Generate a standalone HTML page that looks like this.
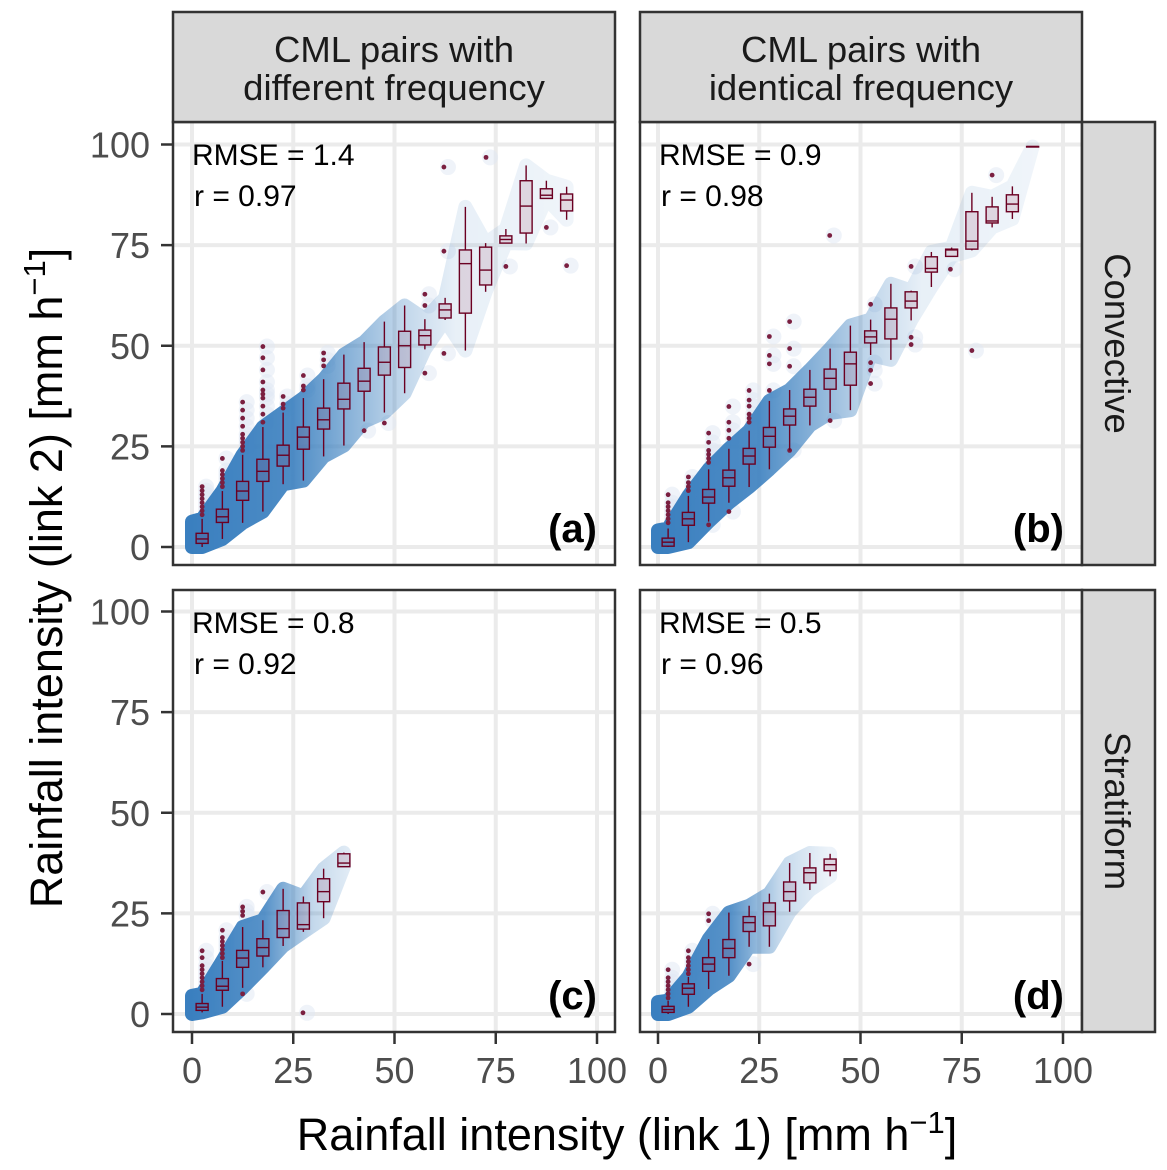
<!DOCTYPE html>
<html><head><meta charset="utf-8"><style>
html,body{margin:0;padding:0;background:#fff;}
svg{display:block;font-family:"Liberation Sans",Arial,sans-serif;}
</style></head><body>
<svg id="chart" width="1167" height="1170" viewBox="0 0 1167 1170">
<defs>
<linearGradient id="fadeA" gradientUnits="userSpaceOnUse" x1="192" y1="0" x2="597" y2="0">
<stop offset="0" stop-color="#fff" stop-opacity="1"/><stop offset="0.25" stop-color="#fff" stop-opacity="0.9"/>
<stop offset="0.5" stop-color="#fff" stop-opacity="0.35"/><stop offset="0.65" stop-color="#fff" stop-opacity="0.12"/>
<stop offset="1" stop-color="#fff" stop-opacity="0.07"/></linearGradient>
<linearGradient id="fadeB" gradientUnits="userSpaceOnUse" x1="658" y1="0" x2="1063" y2="0">
<stop offset="0" stop-color="#fff" stop-opacity="1"/><stop offset="0.25" stop-color="#fff" stop-opacity="0.9"/>
<stop offset="0.5" stop-color="#fff" stop-opacity="0.35"/><stop offset="0.65" stop-color="#fff" stop-opacity="0.12"/>
<stop offset="1" stop-color="#fff" stop-opacity="0.07"/></linearGradient>
<linearGradient id="fadeC" gradientUnits="userSpaceOnUse" x1="192" y1="0" x2="597" y2="0">
<stop offset="0" stop-color="#fff" stop-opacity="1"/><stop offset="0.18" stop-color="#fff" stop-opacity="0.85"/>
<stop offset="0.3" stop-color="#fff" stop-opacity="0.3"/><stop offset="0.42" stop-color="#fff" stop-opacity="0.1"/>
<stop offset="1" stop-color="#fff" stop-opacity="0.07"/></linearGradient>
<linearGradient id="fadeD" gradientUnits="userSpaceOnUse" x1="658" y1="0" x2="1063" y2="0">
<stop offset="0" stop-color="#fff" stop-opacity="1"/><stop offset="0.18" stop-color="#fff" stop-opacity="0.85"/>
<stop offset="0.3" stop-color="#fff" stop-opacity="0.3"/><stop offset="0.42" stop-color="#fff" stop-opacity="0.1"/>
<stop offset="1" stop-color="#fff" stop-opacity="0.07"/></linearGradient>
<mask id="maskA" maskUnits="userSpaceOnUse" x="0" y="0" width="1167" height="1170"><rect x="0" y="0" width="1167" height="1170" fill="url(#fadeA)"/></mask>
<mask id="maskB" maskUnits="userSpaceOnUse" x="0" y="0" width="1167" height="1170"><rect x="0" y="0" width="1167" height="1170" fill="url(#fadeB)"/></mask>
<mask id="maskC" maskUnits="userSpaceOnUse" x="0" y="0" width="1167" height="1170"><rect x="0" y="0" width="1167" height="1170" fill="url(#fadeC)"/></mask>
<mask id="maskD" maskUnits="userSpaceOnUse" x="0" y="0" width="1167" height="1170"><rect x="0" y="0" width="1167" height="1170" fill="url(#fadeD)"/></mask>
</defs>
<g id="layer"></g>
<text x="627" y="1150" font-size="45" text-anchor="middle" fill="#000">Rainfall intensity (link 1) [mm h<tspan dy="-17" font-size="31">−1</tspan><tspan dy="17">]</tspan></text>
<text transform="translate(62,578) rotate(-90)" font-size="45" text-anchor="middle" fill="#000">Rainfall intensity (link 2) [mm h<tspan dy="-17" font-size="31">−1</tspan><tspan dy="17">]</tspan></text>
</svg>
<script>
const xTicks = [0, 25, 50, 75, 100];
const yTicks = [0, 25, 50, 75, 100];
const binsA = [2.5,7.5,12.5,17.5,22.5,27.5,32.5,37.5,42.5,47.5,52.5,57.5,62.5,67.5,72.5,77.5,82.5,87.5,92.5];
const loA  = [0,2,6,8.8,15.6,16.5,22.5,25.2,31.2,33.4,38.2,49.1,56.4,48.8,63.4,75.5,75.4,86.6,81.3];
const q1A  = [0.9,6.1,11.6,16.3,20.1,24.3,29.3,34.3,38.7,42.7,44.6,50.2,56.9,58.1,65.1,75.5,78,86.6,83.5];
const medA = [2.0,7.5,13.9,18.8,22.8,27.3,31.6,36.7,41.2,45.9,50,52.5,58.9,70.4,68.8,76.4,84.7,87.4,86.2];
const q3A  = [3.4,9.4,16.3,21.8,25.3,29.8,34.5,40.7,44.4,49.7,53.6,53.9,60.4,73.8,74.5,77.3,91,89,87.7];
const hiA  = [7,13.9,22.9,29.8,33.4,37,41.7,47.8,50.9,56,60,56.6,61.9,84.5,75.5,79,94.8,91,89.5];
const outA = [[2.5,8],[2.5,9],[2.5,10],[2.5,11],[2.5,12],[2.5,13],[2.5,14],[2.5,15],[7.5,15],[7.5,16],[7.5,17],[7.5,18],[7.5,19],[7.5,22],
 [12.5,24],[12.5,25],[12.5,26],[12.5,27],[12.5,28],[12.5,30],[12.5,32],[12.5,34],[12.5,36],
 [17.5,31],[17.5,33],[17.5,35],[17.5,37],[17.5,38],[17.5,39],[17.5,41],[17.5,44],[17.5,47],[17.5,49.8],
 [22.5,34.5],[22.5,35.5],[22.5,37.4],[27.5,39],[27.5,40],[27.5,42.6],[32.5,45],[32.5,46.5],[32.5,48.2],
 [42.5,28.9],[47.5,30.8],[57.5,43.2],[57.5,62.8],[57.5,60],[62.2,94.4],[62.2,73.5],[62.2,48.1],[72.6,96.8],[77.5,69.7],[87.5,79.4],[92.5,69.9]];

const binsB = binsA;
const loB  = [0,1.2,6.3,11,14.9,19.3,24,30.2,33.3,34,47.7,46.5,56.3,64.6,72.2,73.7,79.4,81.5,99.5];
const q1B  = [0.2,5.4,10.9,15.1,20.6,24.8,30.3,35,39.2,40.2,50.7,51.7,59.4,68.3,72.2,74,80.5,83.3,99.5];
const medB = [1.2,7,12.4,17.2,22.6,27.5,32.5,37.2,41.9,45.5,52.2,56.6,61.1,69.2,73.8,76,81,85.2,99.5];
const q3B  = [2.2,8.6,14.3,19.1,24.5,29.7,34.3,39.2,44.2,48.4,53.7,59.4,63.4,72.1,74,83.3,84.5,87.5,99.5];
const hiB  = [4.6,12.7,19.3,24.4,28.9,36.3,39,44,49.3,55,56.5,65.4,63.7,73.3,74.4,88,87,89.6,99.5];
const outB = [[2.5,6],[2.5,7],[2.5,8],[2.5,9],[2.5,10],[2.5,11],[2.5,13],[7.5,14],[7.5,15],[7.5,16],[7.5,17.4],
 [12.5,21],[12.5,22],[12.5,23],[12.5,24],[12.5,26],[12.5,28.3],[17.5,8.8],[17.5,27],[17.5,29],[17.5,31],[17.5,34.9],
 [12.5,5.5],[22.5,31],[22.5,32],[22.5,33],[22.5,35],[22.5,36.5],[22.5,38.9],[27.5,52.3],[27.5,47.6],[27.5,45.5],[27.5,38.9],
 [32.5,49.3],[32.5,44.9],[32.5,24],[32.5,56],[42.4,77.4],[42.5,31.4],[52.5,45.8],[52.5,43.9],[52.5,40.6],[52.5,60.3],
 [62.5,69.7],[62.5,52.1],[62.5,50.3],[72.2,69],[77.5,48.8],[82.5,92.4]];

const binsC = [2.5,7.5,12.5,17.5,22.5,27.5,32.5,37.5];
const loC  = [0.4,1.8,6.5,11.6,16.9,20.4,23.8,36.6];
const q1C  = [0.9,5.9,11.6,14.4,19,21.1,27.9,36.6];
const medC = [1.7,6.9,13.9,16.5,21.2,22.2,30.4,37.5];
const q3C  = [2.6,8.8,15.8,18.7,25.7,27.6,33.6,39.8];
const hiC  = [5,13.2,21.6,23.3,31.1,29.2,36.1,40.1];
const outC = [[2.5,6],[2.5,7],[2.5,8],[2.5,9],[2.5,10],[2.5,11],[2.5,12],[2.5,14],[2.5,15.7],[7.5,14],[7.5,15],[7.5,16],[7.5,17],[7.5,18],[7.5,19],[7.5,20.8],
 [12.5,24.5],[12.5,25.5],[12.5,26.6],[12.5,5],[17.5,30.3],[27.4,0.3]];

const binsD = [2.5,7.5,12.5,17.5,22.5,27.5,32.5,37.5,42.5];
const loD  = [0,1.8,6.2,9.5,16.7,16.7,25.4,30.8,34.2];
const q1D  = [0.4,4.9,10.6,14,20.5,21.9,28.1,32.6,35.6];
const medD = [1.1,6.4,12.4,16.3,22.7,25.4,30.4,35.1,37.1];
const q3D  = [1.9,7.5,14,18.5,24.2,27.6,32.8,36.3,38.5];
const hiD  = [3.3,9.2,18.6,25.2,26.9,29.9,37.5,40,39.8];
const outD = [[2.5,4],[2.5,5],[2.5,6],[2.5,7],[2.5,8],[2.5,9],[2.5,11],[7.5,10],[7.5,11],[7.5,12],[7.5,13],[7.5,14],[7.5,15.7],[12.5,23.2],[12.5,24.9],[22.5,12.4]];

const stripTop = ["CML pairs with|different frequency", "CML pairs with|identical frequency"];
const stripRight = ["Convective", "Stratiform"];
const rmse = ["1.4","0.9","0.8","0.5"];
const rval = ["0.97","0.98","0.92","0.96"];
const letters = ["(a)","(b)","(c)","(d)"];

const NS = "http://www.w3.org/2000/svg";
const layer = document.getElementById('layer');
function mk(tag, attrs, parent){ const e=document.createElementNS(NS,tag); for(const k in attrs) e.setAttribute(k,attrs[k]); (parent||layer).appendChild(e); return e; }

const panels = [
 {L:173,T:122,R:615,B:565,x0:192,y0:547,bins:binsA,lo:loA,q1:q1A,med:medA,q3:q3A,hi:hiA,out:outA,mask:'maskA',name:'panel-a'},
 {L:640,T:122,R:1082,B:565,x0:658,y0:547,bins:binsB,lo:loB,q1:q1B,med:medB,q3:q3B,hi:hiB,out:outB,mask:'maskB',name:'panel-b'},
 {L:173,T:590,R:615,B:1032,x0:192,y0:1014,bins:binsC,lo:loC,q1:q1C,med:medC,q3:q3C,hi:hiC,out:outC,mask:'maskC',name:'panel-c'},
 {L:640,T:590,R:1082,B:1032,x0:658,y0:1014,bins:binsD,lo:loD,q1:q1D,med:medD,q3:q3D,hi:hiD,out:outD,mask:'maskD',name:'panel-d'}
];
const SX = 4.05, SY = 4.025;

panels.forEach((p, pi) => {
  const xs = v => p.x0 + v*SX;
  const ys = v => p.y0 - v*SY;
  const g = mk('g', {});
  
  
  mk('rect', {x:p.L,y:p.T,width:p.R-p.L,height:p.B-p.T,fill:'#fff'}, g);
  xTicks.forEach(t => {
    const l = mk('line', {x1:xs(t),x2:xs(t),y1:p.T,y2:p.B,stroke:'#ebebeb','stroke-width':4}, g);
    
    
  });
  yTicks.forEach(t => {
    const l = mk('line', {x1:p.L,x2:p.R,y1:ys(t),y2:ys(t),stroke:'#ebebeb','stroke-width':4}, g);
    
    
  });
  p.out.forEach(o => {
    mk('circle', {cx:xs(o[0]+1),cy:ys(o[1]),r:8,fill:'#dfe8f3','fill-opacity':0.5}, g);
  });
  let up = [[0, p.hi[0]*0.9]], dn = [[0,0]];
  p.bins.forEach((b,i) => { up.push([b, p.hi[i]]); dn.push([b, p.lo[i]]); });
  const pts = up.concat(dn.reverse()).map(q => xs(q[0])+','+ys(q[1])).join(' ');
  const mg = mk('g', {mask:'url(#'+p.mask+')'}, g);
  const cloud = mk('polygon', {points:pts, fill:'#3a7fbf', stroke:'#3a7fbf','stroke-width':14,'stroke-linejoin':'round'}, mg);
  
  
  p.out.forEach(o => {
    const c = mk('circle', {cx:xs(o[0]),cy:ys(o[1]),r:2.4,fill:'#7a1f40'}, g);
    
    
  });
  p.bins.forEach((b,i) => {
    const bg = mk('g', {}, g);
    
    
    const cx = xs(b), hw = 6;
    mk('line', {x1:cx,x2:cx,y1:ys(p.hi[i]),y2:ys(p.q3[i]),stroke:'#6b0022','stroke-width':1.4}, bg);
    mk('line', {x1:cx,x2:cx,y1:ys(p.q1[i]),y2:ys(p.lo[i]),stroke:'#6b0022','stroke-width':1.4}, bg);
    mk('rect', {x:cx-hw,y:ys(p.q3[i]),width:2*hw,height:Math.max(0.5,ys(p.q1[i])-ys(p.q3[i])),fill:'rgb(140,40,80)','fill-opacity':0.14,stroke:'#6b0022','stroke-width':1.4}, bg);
    mk('line', {x1:cx-hw,x2:cx+hw,y1:ys(p.med[i]),y2:ys(p.med[i]),stroke:'#6b0022','stroke-width':1.4}, bg);
  });
  const t1 = mk('text', {x:p.L+19,y:p.T+43,'font-size':30,fill:'#000'}, g);
  t1.textContent = 'RMSE = ' + rmse[pi];
  
  
  const t2 = mk('text', {x:p.L+21,y:p.T+84,'font-size':30,fill:'#000'}, g);
  t2.textContent = 'r = ' + rval[pi];
  
  
  const t3 = mk('text', {x:p.R-18,y:p.B-23,'font-size':40,'font-weight':'bold','text-anchor':'end',fill:'#000'}, g);
  t3.textContent = letters[pi];
  
  
  mk('rect', {x:p.L,y:p.T,width:p.R-p.L,height:p.B-p.T,fill:'none',stroke:'#333','stroke-width':2.5}, g);
  if (pi % 2 === 0) {
    yTicks.forEach(t => {
      mk('line', {x1:p.L-12,x2:p.L,y1:ys(t),y2:ys(t),stroke:'#333','stroke-width':2.5}, g);
      const tl = mk('text', {x:p.L-23,y:ys(t)+13,'font-size':36,'text-anchor':'end',fill:'#4d4d4d'}, g);
      tl.textContent = t;
      
      
    });
  }
  if (pi >= 2) {
    xTicks.forEach(t => {
      mk('line', {x1:xs(t),x2:xs(t),y1:p.B,y2:p.B+12,stroke:'#333','stroke-width':2.5}, g);
      const tl = mk('text', {x:xs(t),y:p.B+51,'font-size':36,'text-anchor':'middle',fill:'#4d4d4d'}, g);
      tl.textContent = t;
      
      
    });
  }
});

[[173,615],[640,1082]].forEach((c, i) => {
  const g = mk('g', {});
  
  
  mk('rect', {x:c[0],y:12,width:c[1]-c[0],height:110,fill:'#d9d9d9',stroke:'#333','stroke-width':2.5}, g);
  const lines = stripTop[i].split('|');
  lines.forEach((s, j) => {
    const t = mk('text', {x:(c[0]+c[1])/2,y:62+j*38,'font-size':36.5,'text-anchor':'middle',fill:'#1a1a1a'}, g);
    t.textContent = s;
  });
});
[[122,565],[590,1032]].forEach((r, i) => {
  const g = mk('g', {});
  
  
  mk('rect', {x:1082,y:r[0],width:73,height:r[1]-r[0],fill:'#d9d9d9',stroke:'#333','stroke-width':2.5}, g);
  const t = mk('text', {transform:'translate(1105,'+((r[0]+r[1])/2)+') rotate(90)','font-size':36.5,'text-anchor':'middle',fill:'#1a1a1a'}, g);
  t.textContent = stripRight[i];
});
</script>
</body></html>
